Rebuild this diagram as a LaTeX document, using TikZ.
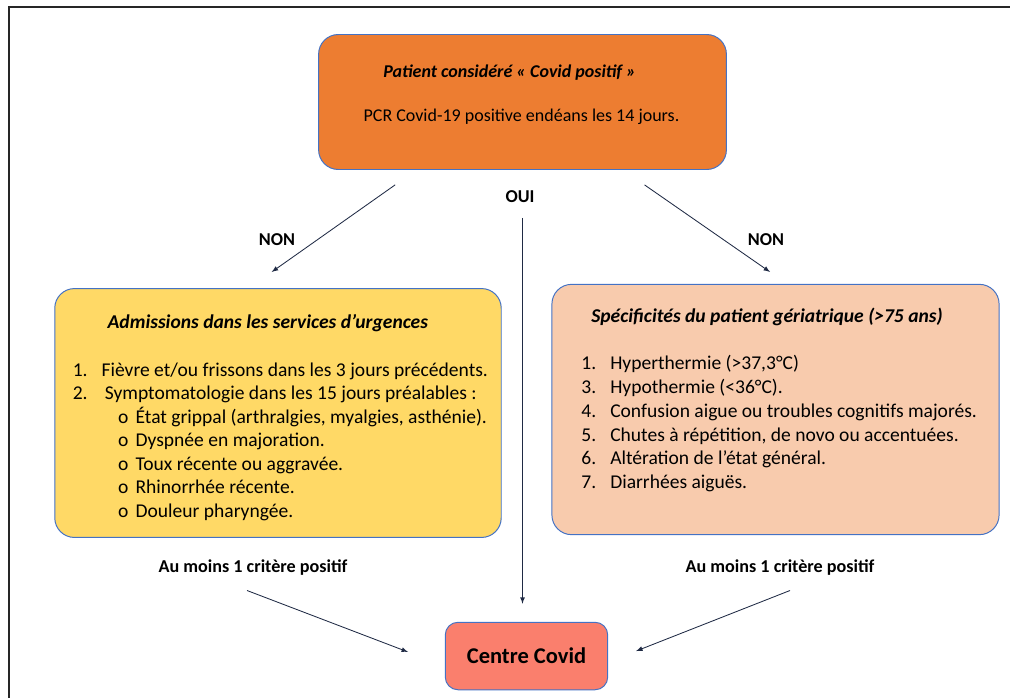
\documentclass[tikz,border=0pt]{standalone}
\usepackage{fontspec}
\setmainfont{Carlito}
\usepackage{tikz}
\usetikzlibrary{shapes,arrows,positioning,calc}
\definecolor{orangecovid}{HTML}{ED7D31}
\definecolor{jaunecovid}{HTML}{FFD966}
\definecolor{rosecovid}{HTML}{F8CBAD}
\definecolor{rougecovid}{HTML}{FA7F6D}
\definecolor{bordbleu}{HTML}{4472C4}
\definecolor{flechecol}{HTML}{1F2A44}

\newcommand{\numitem}[2]{\makebox[20.5pt][l]{#1}#2}
\newcommand{\sousitem}[1]{\hspace*{45pt}\makebox[12.5pt][l]{o}#1}

\tikzset{
    boite/.style={draw=bordbleu, line width=0.7pt, rounded corners=14pt, inner sep=0pt},
    etiq/.style={font=\fontsize{12.9}{14}\selectfont\bfseries, inner sep=1pt},
    fleche/.style={-latex, draw=flechecol, line width=0.6pt}
}

\begin{document}
\begin{tikzpicture}[x=0.025cm, y=-0.025cm]
    \useasboundingbox (0,0) rectangle (1010,698);
    % cadre
    \draw[line width=1.4pt, black!85] (1010,7) -- (9,7) -- (9,698);

    % patient covid positif
    \node[boite, fill=orangecovid] (patient) at (522.5,102) {
        \begin{minipage}[c][96pt][t]{290pt}
            \fontsize{12.8}{16.7}\selectfont
            \vspace*{21.5pt}
            \hspace*{46pt}\textbf{\textit{Patient considéré « Covid positif »}}\\[15pt]
            \hspace*{32pt}PCR Covid-19 positive endéans les 14 jours.
        \end{minipage}
    };

    % admissions urgences
    \node[boite, fill=jaunecovid] (urgences) at (278,413) {
        \begin{minipage}[c][177pt][t]{317.5pt}
            \fontsize{13.9}{16.7}\selectfont
            \vspace*{18.5pt}
            \hspace*{37.6pt}\textbf{\textit{Admissions dans les services d’urgences}}\\[17.3pt]
            \hspace*{12.8pt}\numitem{1.}{Fièvre et/ou frissons dans les 3 jours précédents.}\\
            \hspace*{12.8pt}\numitem{2.}{\,Symptomatologie dans les 15 jours préalables :}\\
            \sousitem{État grippal (arthralgies, myalgies, asthénie).}\\
            \sousitem{Dyspnée en majoration.}\\
            \sousitem{Toux récente ou aggravée.}\\
            \sousitem{Rhinorrhée récente.}\\
            \sousitem{Douleur pharyngée.}
        \end{minipage}
    };

    % patient geriatrique
    \node[boite, fill=rosecovid] (geriatrie) at (775.5,409.5) {
        \begin{minipage}[c][178pt][t]{318pt}
            \fontsize{13.9}{16.9}\selectfont
            \vspace*{16.5pt}
            \hspace*{28pt}\textbf{\textit{Spécificités du patient gériatrique (>75 ans)}}\\[17pt]
            \hspace*{21pt}\numitem{1.}{Hyperthermie (>37,3°C)}\\
            \hspace*{21pt}\numitem{3.}{Hypothermie (<36°C).}\\
            \hspace*{21pt}\numitem{4.}{Confusion aigue ou troubles cognitifs majorés.}\\
            \hspace*{21pt}\numitem{5.}{Chutes à répétition, de novo ou accentuées.}\\
            \hspace*{21pt}\numitem{6.}{Altération de l’état général.}\\
            \hspace*{21pt}\numitem{7.}{Diarrhées aiguës.}
        \end{minipage}
    };

    % centre covid
    \node[boite, fill=rougecovid, rounded corners=9pt, minimum width=115.5pt,
          minimum height=48pt, font=\fontsize{16}{18}\selectfont\bfseries] (centre) at (526.5,656) {Centre Covid};

    % etiquettes
    \node[etiq] (oui) at (520,197) {OUI};
    \node[etiq] (nongauche) at (277,240) {NON};
    \node[etiq] (nondroite) at (766,240) {NON};
    \node[etiq] (critgauche) at (253,568) {Au moins 1 critère positif};
    \node[etiq] (critdroite) at (780,568) {Au moins 1 critère positif};

    % fleches
    \draw[fleche, shorten <=18.3pt, shorten >=19.8pt]
        ($(patient.south west)!0.24!(patient.south east)$) -- ($(urgences.north west)!0.435!(urgences.north east)$);
    \draw[fleche, shorten <=18.6pt, shorten >=14.8pt]
        ($(patient.south west)!0.746!(patient.south east)$) -- ($(geriatrie.north west)!0.526!(geriatrie.north east)$);
    \draw[fleche, shorten <=34pt, shorten >=12.8pt] (patient.south) -- (patient.south |- centre.north);
    \draw[fleche, shorten >=28pt] ($(critgauche.south)+(-6,13)$) -- ($(centre.west)+(0,10)$);
    \draw[fleche, shorten >=21.3pt] ($(critdroite.south)+(10,13)$) -- ($(centre.east)+(0,6)$);
\end{tikzpicture}
\end{document}
